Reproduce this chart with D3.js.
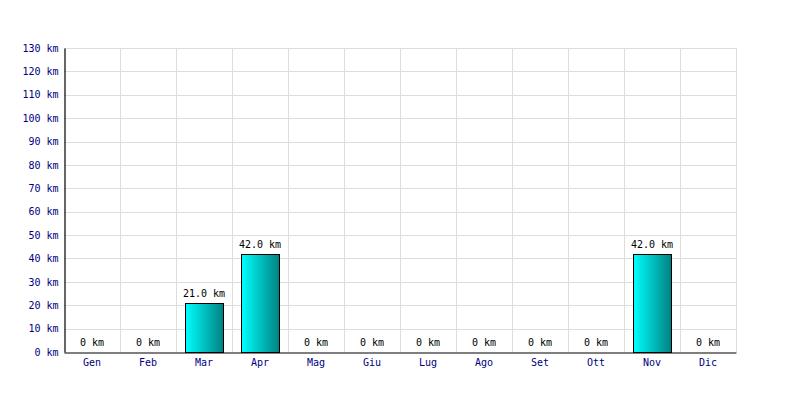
<!DOCTYPE html>
<html><head><meta charset="utf-8">
<script src="https://cdn.jsdelivr.net/npm/d3@7"></script>
<style>body{margin:0;background:#fff}svg{display:block}</style>
</head><body><svg id="c" width="800" height="400"></svg>
<script>
const months = ["Gen","Feb","Mar","Apr","Mag","Giu","Lug","Ago","Set","Ott","Nov","Dic"];
const values = [0,0,21.0,42.0,0,0,0,0,0,0,42.0,0];
const yTicks = [0,10,20,30,40,50,60,70,80,90,100,110,120,130];

const svg = d3.select("#c");
const m = {l:64, r:736, t:48, b:352};
const x = d3.scaleBand().domain(months).range([m.l, m.r]).paddingInner(0.32).paddingOuter(0.16);
const xc = d3.scaleBand().domain(months).range([m.l, m.r]);
const y = d3.scaleLinear().domain([0,130]).range([m.b, m.t]);
const font = "'DejaVu Sans Mono', monospace";

const defs = svg.append("defs");
const g = defs.append("linearGradient").attr("id","gr").attr("x1","0").attr("x2","1").attr("y1","0").attr("y2","0");
g.append("stop").attr("offset","0%").attr("stop-color","#00ffff");
g.append("stop").attr("offset","100%").attr("stop-color","#008080");

// grid
svg.append("g").selectAll("line").data(yTicks.slice(1)).join("line")
  .attr("x1", m.l).attr("x2", m.r+0.5).attr("y1", d=>Math.round(y(d))+0.5).attr("y2", d=>Math.round(y(d))+0.5)
  .attr("stroke","#dddddd");
svg.append("g").selectAll("line").data(months).join("line")
  .attr("x1", d=>Math.round(xc(d)+xc.bandwidth())+0.5).attr("x2", d=>Math.round(xc(d)+xc.bandwidth())+0.5)
  .attr("y1", m.t).attr("y2", m.b).attr("stroke","#dddddd");

// bars
svg.append("g").selectAll("rect").data(values.map((v,i)=>({m:months[i],v}))).join("rect")
  .filter(d=>d.v>0)
  .attr("x", d=>Math.round(x(d.m))+0.5).attr("width", Math.round(x.bandwidth()))
  .attr("y", d=>Math.round(y(d.v))+0.5).attr("height", d=>Math.round(y(0))-Math.round(y(d.v)))
  .attr("fill","url(#gr)").attr("stroke","#000");

// value labels
svg.append("g").selectAll("text").data(values.map((v,i)=>({m:months[i],v}))).join("text")
  .attr("x", d=>xc(d.m)+xc.bandwidth()/2).attr("y", d=>y(d.v)-6)
  .attr("text-anchor","middle").attr("font-family",font).attr("font-size",10).attr("fill","#000")
  .text(d=> d.v===0 ? "0 km" : d.v.toFixed(1)+" km");

// axes
const yAxis = d3.axisLeft(y).tickValues(yTicks).tickSize(0).tickPadding(6).tickFormat(d=>d+" km");
const ya = svg.append("g").attr("transform",`translate(${m.l+0.5},0)`).call(yAxis);
ya.select(".domain").attr("stroke","#000").attr("stroke-width",1.2);
ya.selectAll("text").attr("font-family",font).attr("font-size",10).attr("fill","#000080");

const xAxis = d3.axisBottom(xc).tickSize(0).tickPadding(6);
const xa = svg.append("g").attr("transform",`translate(0,${m.b+0.5})`).call(xAxis);
xa.select(".domain").attr("stroke","#000").attr("stroke-width",1.2);
xa.selectAll("text").attr("font-family",font).attr("font-size",10).attr("fill","#000080");
</script></body></html>
